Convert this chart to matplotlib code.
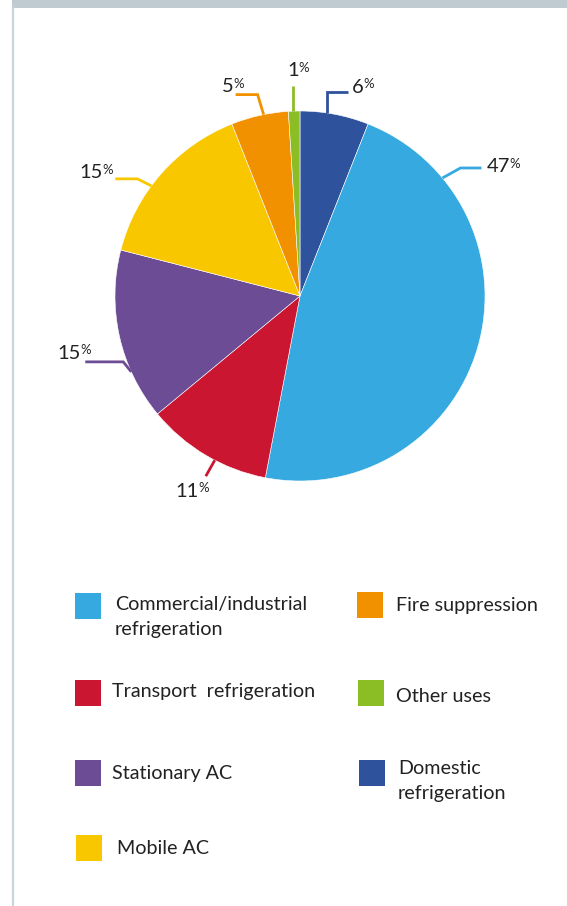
import numpy as np
import matplotlib.pyplot as plt
from matplotlib.patches import Rectangle

# share of each end use, clockwise from 12 o'clock
labels = ["Domestic\nrefrigeration", "Commercial/industrial\nrefrigeration",
          "Transport  refrigeration", "Stationary AC", "Mobile AC",
          "Fire suppression", "Other uses"]
shares = [6, 47, 11, 15, 15, 5, 1]
colors = ["#2f529d", "#36a9e1", "#cb1632", "#6c4c95", "#f8c700",
          "#f29100", "#8bbd25"]

# legend order: left column then right column
legend_order = [1, 2, 3, 4, 5, 6, 0]

W, H = 567, 906
FONT = "Lato"

fig = plt.figure(figsize=(W / 100, H / 100), dpi=100)
ax = fig.add_axes([0, 0, 1, 1])

# y axis is inverted, so counterclock=True runs clockwise on screen
ax.set_ylim(H, 0)
wedges, _ = ax.pie(shares, colors=colors, startangle=-90, counterclock=True,
                   center=(300, 296), radius=185, frame=True,
                   wedgeprops=dict(edgecolor="white", linewidth=0.4))
ax.set_xlim(0, W)
ax.set_ylim(H, 0)  # pixel coords, y grows downward
ax.set_aspect("auto")
ax.axis("off")

# frame: grey strip on top, thin rule down the left side
ax.add_patch(Rectangle((12, 0), W - 12, 8, color="#bfcad1", lw=0))
ax.plot([12.5, 12.5], [8, H], color="#c9d5dc", lw=1.6)

# leader line per wedge: where on the rim (fraction of the wedge),
# elbow offset, horizontal run, text anchor and alignment
leaders = [
    (0.39, (0, -21), 21, (352, 93), "left"),
    (0.17, (18, -10), 21, (487, 172), "left"),
    (0.42, (-9, 16), 0, (192, 497), "center"),
    (0.285, (-8, -10), -38, (91, 359), "right"),
    (0.41, (-14, -7), -22, (113, 178), "right"),
    (0.57, (-6, -20), -22, (244, 92), "right"),
    (0.40, (0, -25), 0, (298, 76), "center"),
]

fig.canvas.draw()
renderer = fig.canvas.get_renderer()


def text_width(s, size):
    t = ax.text(0, 0, s, fontsize=size, family=FONT)
    bb = t.get_window_extent(renderer)
    t.remove()
    return bb.width


for w, val, (frac, (ex, ey), run, (tx, ty), ha) in zip(wedges, shares, leaders):
    ang = w.theta1 + frac * (w.theta2 - w.theta1)
    cx, cy = w.center
    px = cx + w.r * np.cos(np.radians(ang))
    py = cy + w.r * np.sin(np.radians(ang))
    xs = [px, px + ex, px + ex + run]
    ys = [py, py + ey, py + ey]
    ax.plot(xs, ys, color=w.get_facecolor(), lw=2, solid_capstyle="butt",
            solid_joinstyle="miter")

    # big number, small raised percent sign right after it
    num = str(val)
    wn = text_width(num, 14.5)
    wp = text_width("%", 9.5)
    gap = -0.5
    total = wn + wp + gap
    if ha == "left":
        x0 = tx
    elif ha == "right":
        x0 = tx - total
    else:
        x0 = tx - total / 2
    ax.text(x0, ty, num, fontsize=14.5, family=FONT, color="#222222",
            ha="left", va="baseline")
    ax.text(x0 + wn + gap, ty - 14.5, "%", fontsize=9.5, family=FONT,
            color="#222222", ha="left", va="top")

# legend: two columns of colour squares with wrapped names
slots = [(75, 593), (75, 680), (75, 760), (76, 835),
         (357, 592), (358, 680), (359, 760)]
text_dx = [40, 37, 37, 41, 39, 38, 39]
text_dy = [24, 12, 14, 14, 14, 16, 21]
for (sx, sy), dx, dy, i in zip(slots, text_dx, text_dy, legend_order):
    ax.add_patch(Rectangle((sx, sy), 26, 26, color=colors[i], lw=0))
    ax.text(sx + dx, sy + dy, labels[i], fontsize=14.2, family=FONT,
            color="#222222", ha="left", va="center", linespacing=1.55)

fig.savefig("out.png", dpi=100)
